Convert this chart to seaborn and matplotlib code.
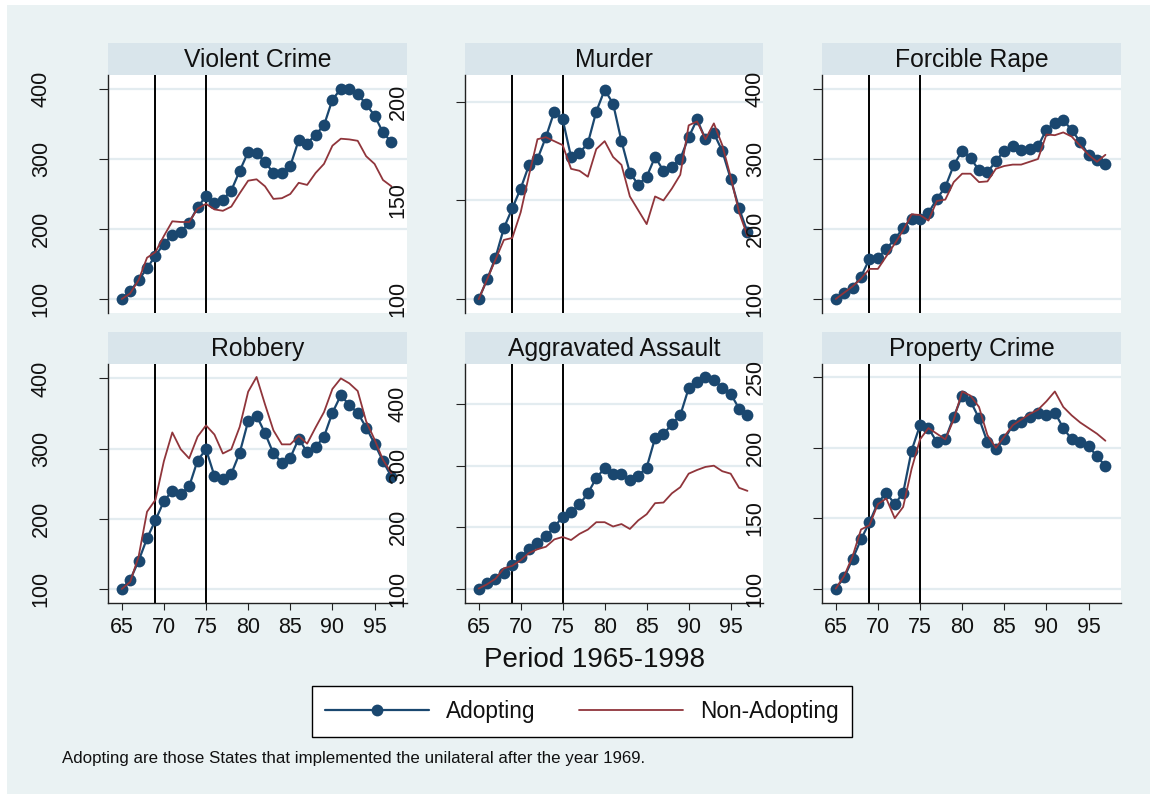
import matplotlib
matplotlib.use('Agg')
import matplotlib.pyplot as plt
from matplotlib.patches import Rectangle
import pandas as pd
import seaborn as sns

years = [65, 66, 67, 68, 69, 70, 71, 72, 73, 74, 75, 76, 77, 78, 79, 80, 81,
         82, 83, 84, 85, 86, 87, 88, 89, 90, 91, 92, 93, 94, 95, 96, 97]

violent_adopt = [100, 111, 127, 144, 162, 179, 192, 196, 209, 231, 247, 237, 242, 255, 283, 310, 308,
                 296, 280, 280, 290, 327, 322, 335, 348, 385, 400, 400, 393, 378, 362, 338, 324]
violent_non = [100, 108, 127, 159, 167, 190, 211, 210, 210, 229, 236, 228, 226, 232, 251, 269, 271,
               261, 243, 244, 250, 266, 263, 280, 293, 319, 329, 328, 326, 304, 293, 270, 261]

murder_adopt = [100, 110, 121, 136, 146, 156, 168, 171, 182, 195, 191, 172, 174, 179, 195, 206, 199,
                180, 164, 158, 162, 172, 165, 167, 171, 182, 191, 181, 184, 175, 161, 146, 134]
murder_non = [100, 110, 120, 130, 131, 144, 163, 181, 182, 180, 178, 166, 165, 162, 176, 180, 172,
              168, 152, 145, 138, 152, 150, 156, 163, 188, 190, 181, 189, 178, 162, 144, 132]

rape_adopt = [100, 109, 116, 132, 157, 159, 171, 186, 201, 215, 215, 223, 243, 260, 291, 312, 301,
              284, 281, 297, 312, 318, 313, 314, 318, 342, 352, 356, 341, 325, 306, 299, 293]
rape_non = [100, 109, 118, 129, 143, 143, 161, 179, 198, 221, 220, 212, 240, 242, 267, 279, 279,
            267, 268, 286, 290, 292, 292, 296, 300, 335, 334, 338, 332, 319, 306, 296, 306]

robbery_adopt = [100, 113, 140, 172, 198, 225, 240, 235, 246, 283, 299, 261, 256, 264, 294, 339, 347,
                 322, 293, 280, 287, 314, 295, 302, 317, 351, 376, 362, 351, 330, 307, 282, 260]
robbery_non = [100, 110, 146, 210, 227, 282, 323, 299, 286, 317, 333, 320, 293, 299, 331, 381, 402,
               363, 326, 306, 306, 318, 307, 330, 352, 385, 400, 393, 382, 339, 313, 284, 265]

assault_adopt = [100, 109, 116, 126, 139, 151, 164, 174, 185, 200, 217, 224, 237, 255, 280, 296, 287,
                 287, 276, 284, 297, 345, 351, 368, 382, 426, 436, 445, 440, 427, 417, 393, 383]
assault_non = [100, 107, 116, 133, 137, 146, 158, 164, 168, 180, 184, 179, 189, 196, 208, 208, 201,
               205, 197, 211, 221, 239, 240, 255, 265, 287, 293, 298, 300, 291, 287, 264, 259]

property_adopt = [100, 108, 121, 135, 147, 161, 168, 160, 168, 198, 216, 214, 204, 206, 222, 237, 233,
                  221, 204, 199, 206, 216, 218, 222, 225, 223, 225, 214, 206, 204, 201, 194, 187]
property_non = [100, 109, 123, 142, 145, 160, 164, 150, 158, 185, 206, 214, 210, 206, 220, 240, 237,
                229, 209, 200, 208, 216, 220, 224, 227, 233, 240, 229, 223, 218, 214, 210, 205]

titles = ["Violent Crime", "Murder", "Forcible Rape",
          "Robbery", "Aggravated Assault", "Property Crime"]
y_ticks = [[100, 200, 300, 400], [100, 150, 200], [100, 200, 300, 400],
           [100, 200, 300, 400], [100, 200, 300, 400], [100, 150, 200, 250]]
x_ticks = [65, 70, 75, 80, 85, 90, 95]
law_years = [69, 75]
series_names = ["Adopting", "Non-Adopting"]
note = "Adopting are those States that implemented the unilateral after the year 1969."

adopt = [violent_adopt, murder_adopt, rape_adopt, robbery_adopt, assault_adopt, property_adopt]
non_adopt = [violent_non, murder_non, rape_non, robbery_non, assault_non, property_non]

# layout (pixels)
W, H = 1150, 794
ylims = [(80, 420), (93, 213.5), (80, 420), (80, 420.5), (76.5, 465.5), (89.8, 259.5)]
col_x = [(108, 407), (465, 763), (822, 1121)]
row_y = [(43, 75, 313), (332, 364, 603)]  # strip top, plot top, plot bottom

bg = '#EAF2F3'
strip_col = '#D9E5EB'
grid_col = '#E3ECF0'
navy = '#1A476F'
maroon = '#90353B'
ink = '#111111'

sns.set_theme(style='white')
plt.rcParams['font.family'] = ['Liberation Sans', 'DejaVu Sans']

fig = plt.figure(figsize=(W / 100, H / 100), dpi=100, facecolor=bg)
# thin white rim on left and top, as in the original export
fig.patches.append(Rectangle((0, 0), 7 / W, 1, transform=fig.transFigure,
                             facecolor='white', edgecolor='none', zorder=-10))
fig.patches.append(Rectangle((0, 1 - 5 / H), 1, 5 / H, transform=fig.transFigure,
                             facecolor='white', edgecolor='none', zorder=-10))


def rect(x0, y0, x1, y1):
    return [x0 / W, 1 - y1 / H, (x1 - x0) / W, (y1 - y0) / H]


first_ax = None
for i in range(6):
    r, c = divmod(i, 3)
    x0, x1 = col_x[c]
    st, pt, pb = row_y[r]

    sax = fig.add_axes(rect(x0, st, x1, pt))
    sax.set_facecolor(strip_col)
    sax.set_xticks([])
    sax.set_yticks([])
    for s in sax.spines.values():
        s.set_visible(False)
    sax.text(0.5, 0.47, titles[i], ha='center', va='center', fontsize=17.8, color=ink,
             transform=sax.transAxes)

    ax = fig.add_axes(rect(x0, pt, x1, pb))
    ax.set_facecolor('white')
    df = pd.DataFrame({'year': years, 'Adopting': adopt[i], 'Non-Adopting': non_adopt[i]})

    for yv in y_ticks[i]:
        ax.axhline(yv, color=grid_col, lw=1.6, zorder=0)
    for lx in law_years:
        ax.axvline(lx, color='black', lw=1.4, zorder=1)

    sns.lineplot(data=df, x='year', y='Adopting', ax=ax, color=navy, lw=1.6,
                 marker='o', markersize=8.5, markeredgewidth=0, label=series_names[0],
                 zorder=3, legend=False)
    sns.lineplot(data=df, x='year', y='Non-Adopting', ax=ax, color=maroon, lw=1.3,
                 label=series_names[1], zorder=4, legend=False)

    ax.set_xlim(63.37, 98.85)
    ax.set_ylim(*ylims[i])
    ax.set_yticks(y_ticks[i])
    ax.set_yticklabels([str(v) for v in y_ticks[i]], rotation=90, va='center')
    ax.set_xlabel('')
    ax.set_ylabel('')
    for side in ['top', 'right']:
        ax.spines[side].set_visible(False)
    ax.spines['left'].set_color('#222222')
    ax.spines['left'].set_linewidth(1.0)
    ax.tick_params(axis='y', direction='out', length=6.5, width=0.8, color='#222222',
                   pad=34, labelsize=15.5, left=True, labelcolor=ink)
    if r == 0:
        ax.spines['bottom'].set_visible(False)
        ax.set_xticks([])
    else:
        ax.spines['bottom'].set_color('#222222')
        ax.spines['bottom'].set_linewidth(1.0)
        ax.set_xticks(x_ticks)
        ax.tick_params(axis='x', direction='out', length=5, width=0.8, color='#222222',
                       pad=5, labelsize=15.5, bottom=True, labelcolor=ink)
    if first_ax is None:
        first_ax = ax

fig.text(594 / W, 1 - 660 / H, 'Period 1965-1998', ha='center', va='center',
         fontsize=20, color=ink)

handles = [h for h in first_ax.get_lines() if h.get_label() in series_names]
leg = fig.legend(handles, series_names, loc='center', bbox_to_anchor=(582 / W, 1 - 711.5 / H),
                 ncol=2, frameon=True, fancybox=False, fontsize=16.3, handlelength=4.6,
                 columnspacing=1.9, handletextpad=0.75, borderpad=0.6, numpoints=1,
                 framealpha=1.0, labelcolor=ink)
leg.get_frame().set_edgecolor('black')
leg.get_frame().set_linewidth(1.0)
leg.get_frame().set_facecolor('white')

fig.text(62 / W, 1 - 758 / H, note, ha='left', va='center', fontsize=12.15, color=ink)

fig.savefig('out.png', dpi=100, facecolor=bg)
